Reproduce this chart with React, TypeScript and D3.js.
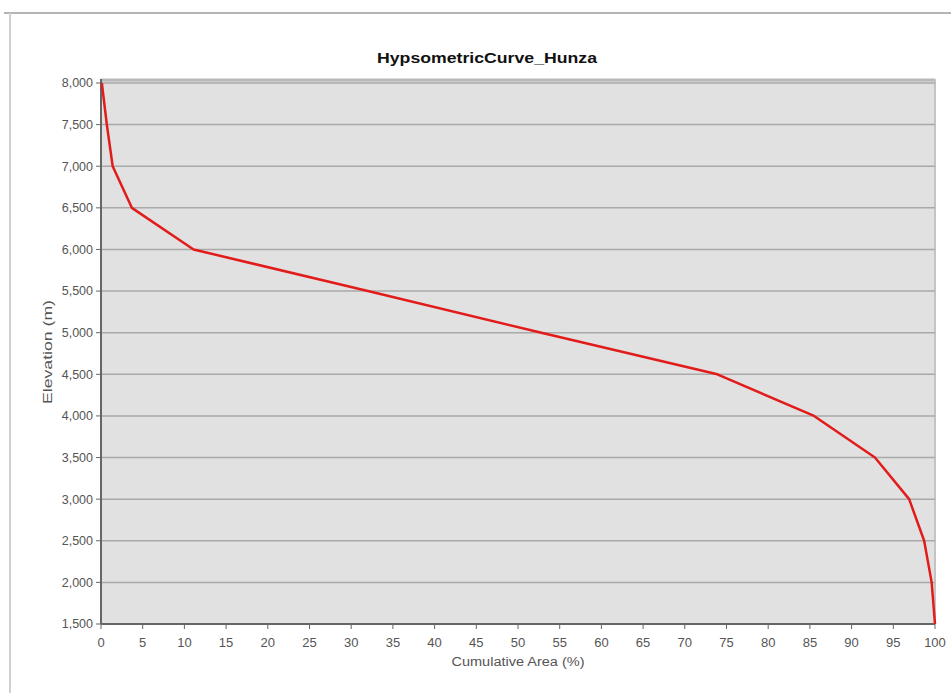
import * as d3 from 'd3';

const W = 951;
const H = 693;

// cumulative area (%) vs elevation (m)
const elevation = [8000, 7500, 7000, 6500, 6000, 5500, 5000, 4500, 4000, 3500, 3000, 2500, 2000, 1500];
const cumArea = [0.1, 0.7, 1.4, 3.7, 11.1, 32, 52.8, 73.9, 85.5, 92.8, 96.9, 98.7, 99.6, 100];

const xTicks = d3.range(0, 101, 5);
const yTicks = d3.range(1500, 8001, 500);

const margin = { left: 101, right: 935, top: 83, bottom: 624 };
const font = '"Liberation Sans Narrow", "Liberation Sans", Arial, sans-serif';

export default function App() {
  const x = d3.scaleLinear().domain([0, 100]).range([margin.left, margin.right]);
  const y = d3.scaleLinear().domain([1500, 8000]).range([margin.bottom, margin.top]);

  const pts = cumArea.map((a, i) => [a, elevation[i]] as [number, number]);
  const line = d3.line<[number, number]>().x(d => x(d[0])).y(d => y(d[1]));

  return (
    <svg width={W} height={H} style={{ position: 'absolute', left: 0, top: 0, background: '#fff' }}>
      {/* window frame */}
      <line x1={4} x2={W} y1={13} y2={13} stroke="#b4b4b4" strokeWidth={2} />
      <line x1={10} x2={10} y1={13} y2={H} stroke="#d0d0d0" strokeWidth={2} />

      <text x={487} y={63} textAnchor="middle" fontFamily={font} fontWeight="bold" fontSize={15}
        textLength={220} lengthAdjust="spacingAndGlyphs" fill="#111">HypsometricCurve_Hunza</text>

      {/* plot area */}
      <rect x={margin.left} y={margin.top - 4} width={margin.right - margin.left} height={margin.bottom - margin.top + 4} fill="#e1e1e1" />
      <line x1={margin.left} x2={margin.right} y1={margin.top - 3} y2={margin.top - 3} stroke="#b8b8b8" strokeWidth={3} />
      <line x1={margin.right} x2={margin.right} y1={margin.top - 4} y2={margin.bottom} stroke="#c4c4c4" strokeWidth={2} />

      {yTicks.filter(t => t > 1500).map(t => (
        <line key={'g' + t} x1={margin.left} x2={margin.right} y1={y(t)} y2={y(t)} stroke="#a9a9a9" strokeWidth={1.5} />
      ))}

      {/* axes */}
      <line x1={margin.left} x2={margin.left} y1={margin.top - 4} y2={margin.bottom} stroke="#666" strokeWidth={2} />
      <line x1={margin.left} x2={margin.right} y1={margin.bottom} y2={margin.bottom} stroke="#666" strokeWidth={2} />

      {yTicks.map(t => (
        <g key={'y' + t}>
          <line x1={margin.left - 5} x2={margin.left} y1={y(t)} y2={y(t)} stroke="#666" strokeWidth={1} />
          <text x={margin.left - 8} y={y(t)} dy="0.35em" textAnchor="end" fontFamily={font} fontSize={12.5} fill="#555">
            {d3.format(',')(t)}
          </text>
        </g>
      ))}

      {xTicks.map(t => (
        <g key={'x' + t}>
          <line x1={x(t)} x2={x(t)} y1={margin.bottom} y2={margin.bottom + 5} stroke="#666" strokeWidth={1} />
          <text x={x(t)} y={647} textAnchor="middle" fontFamily={font} fontSize={13} fill="#555">{t}</text>
        </g>
      ))}

      <text x={518} y={666} textAnchor="middle" fontFamily={font} fontSize={12.5} fill="#555"
        textLength={133} lengthAdjust="spacingAndGlyphs">Cumulative Area (%)</text>
      <text transform={`translate(52, 352) rotate(-90)`} textAnchor="middle" fontFamily={font} fontSize={12.5} fill="#555"
        textLength={104} lengthAdjust="spacingAndGlyphs">Elevation (m)</text>

      <path d={line(pts) ?? ''} fill="none" stroke="#e21b1b" strokeWidth={2.5} strokeLinejoin="round" />
    </svg>
  );
}
